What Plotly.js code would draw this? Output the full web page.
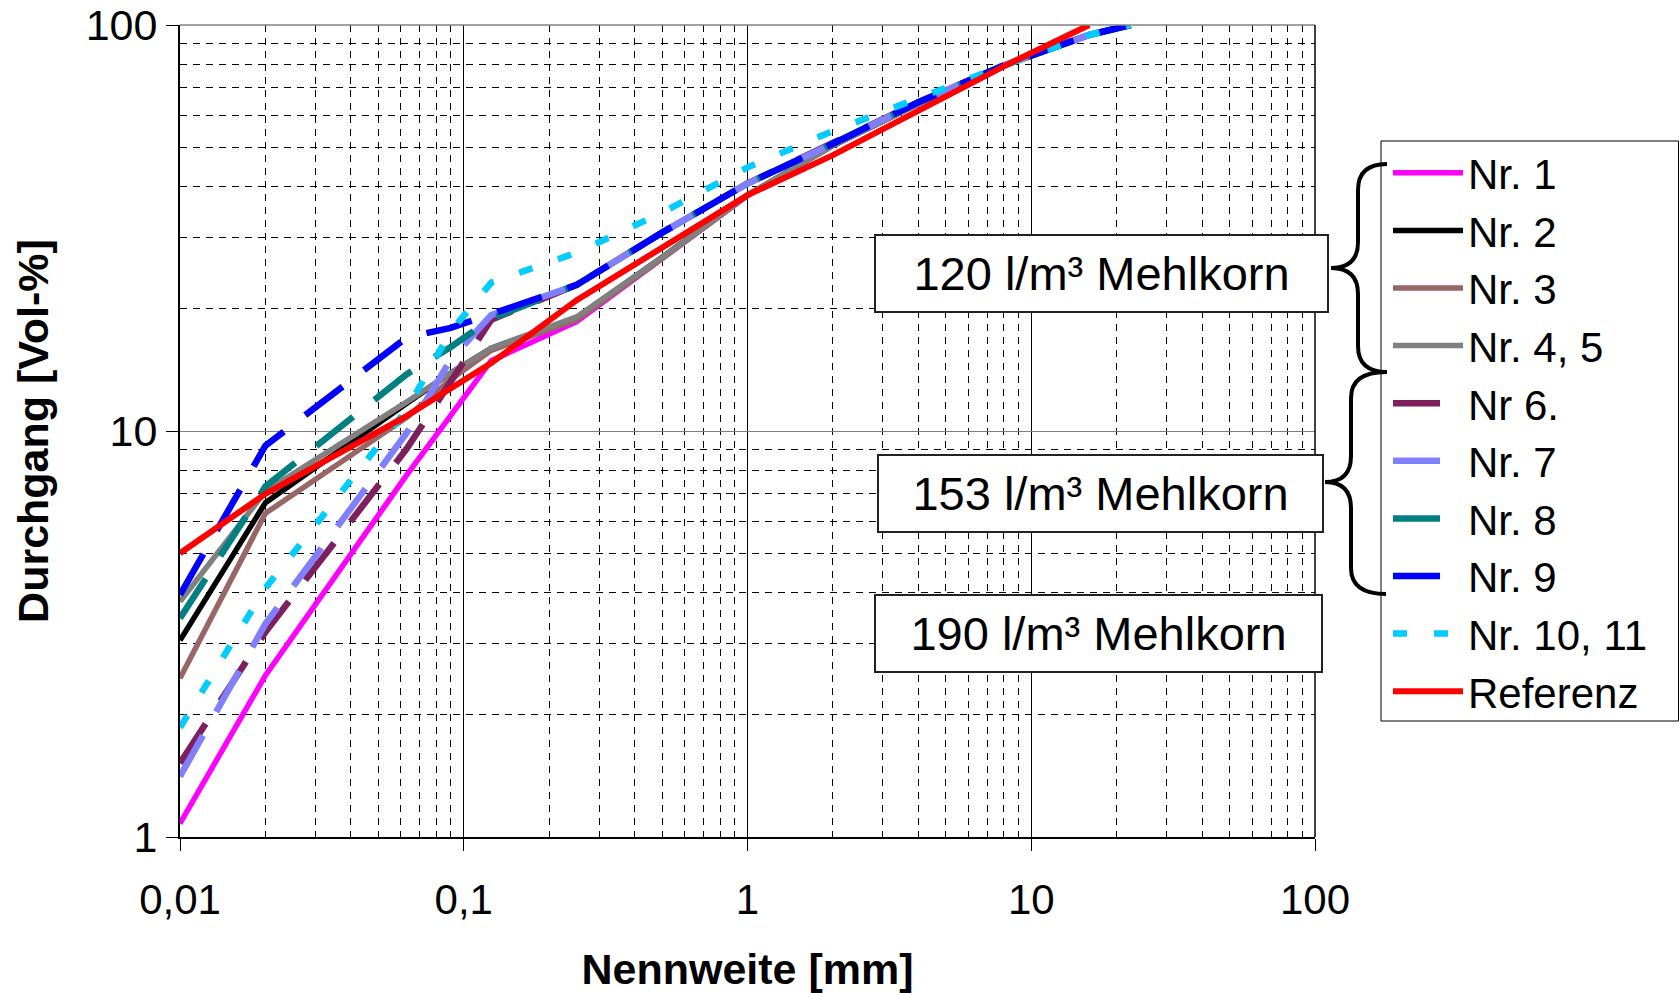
<!DOCTYPE html>
<html>
<head>
<meta charset="utf-8">
<script src="https://cdn.plot.ly/plotly-3.0.1.min.js"></script>
<style>
  html, body { margin: 0; padding: 0; background: #fff; }
  #chart { width: 1679px; height: 993px; }
</style>
</head>
<body>
<div id="chart"></div>
<script>
// Sieve / grain sizes [mm]
const sizes = [0.01, 0.02, 0.063, 0.09, 0.125, 0.25, 0.5, 1, 2, 4, 8, 16, 22.4];

// Passing [Vol-%] per mix
const nr1    = [1.08, 2.5, 7.8, 11.0, 14.9, 18.6, 26.5, 38.0, 50.5, 64.0, 79.5, 94.5, 100];
const nr2    = [3.05, 6.66, 11.7, 13.9, 16.0, 19.0, 26.8, 38.1, 50.5, 64.0, 79.5, 94.5, 100];
const nr3    = [2.46, 6.27, 10.8, 13.4, 15.8, 18.8, 26.6, 38.0, 50.5, 64.0, 79.5, 94.5, 100];
const nr45   = [3.8, 7.1, 11.8, 13.9, 16.0, 19.1, 26.8, 38.1, 50.5, 64.0, 79.5, 94.5, 100];
const nr6    = [1.52, 3.2, 9.05, 13.3, 18.8, 22.9, 30.8, 40.7, 51.0, 64.5, 79.5, 94.5, 100];
const nr7    = [1.41, 3.35, 9.9, 15.0, 19.3, 22.9, 30.8, 40.7, 51.0, 64.5, 79.5, 94.5, 100];
const nr8    = [3.46, 7.3, 13.8, 16.1, 18.9, 22.9, 30.8, 40.7, 51.0, 64.5, 79.5, 94.5, 100];
const nr9    = [3.95, 9.2, 17.0, 17.95, 19.4, 22.9, 30.8, 40.7, 51.0, 64.5, 79.5, 94.5, 100];
const nr1011 = [1.86, 4.1, 11.3, 17.6, 23.2, 27.5, 34.5, 44.6, 54.8, 66.0, 79.5, 94.5, 100];
const referenz = [5.0, 7.0, 10.9, 12.7, 14.7, 21.0, 28.2, 38.1, 47.8, 61.6, 79.1, 100, null];

const seriesNames = ['Nr. 1', 'Nr. 2', 'Nr. 3', 'Nr. 4, 5', 'Nr 6.', 'Nr. 7', 'Nr. 8', 'Nr. 9', 'Nr. 10, 11', 'Referenz'];

// Axis tick labels
const xTickVals = [0.01, 0.1, 1, 10, 100];
const xTickText = ['0,01', '0,1', '1', '10', '100'];
const yTickVals = [1, 10, 100];
const yTickText = ['1', '10', '100'];

// Group labels
const groupLabels = ['120 l/m³ Mehlkorn', '153 l/m³ Mehlkorn', '190 l/m³ Mehlkorn'];

// minor grid positions: 2..9 within each decade
function minorGrid(lo, hi) {
  const v = [];
  for (let d = lo; d < hi; d++) {
    for (let k = 2; k <= 9; k++) v.push(k * Math.pow(10, d));
  }
  return v;
}

// plot frame in pixels
const W = 1679, H = 993;
const L = 180, R = 1315, T = 25, B = 837;
const px = x => (x - L) / (R - L);
const py = y => (B - y) / (B - T);

const LONGDASH = '47px,27px';
const DOTS = '14px,27px';

function tr(name, y, color, width, dash) {
  return {
    type: 'scatter', mode: 'lines', name: name,
    x: sizes, y: y,
    line: { color: color, width: width, dash: dash || 'solid' },
    connectgaps: false, hoverinfo: 'x+y+name'
  };
}

const data = [
  tr(seriesNames[0], nr1, '#FF00FF', 5.5),
  tr(seriesNames[1], nr2, '#000000', 5.5),
  tr(seriesNames[2], nr3, '#996666', 5.5),
  tr(seriesNames[3], nr45, '#808080', 5.5),
  tr(seriesNames[4], nr6, '#7E1F5E', 6.5, LONGDASH),
  tr(seriesNames[5], nr7, '#8080FF', 6.5, LONGDASH),
  tr(seriesNames[6], nr8, '#008080', 6.5, LONGDASH),
  tr(seriesNames[7], nr9, '#0000FF', 6.5, LONGDASH),
  tr(seriesNames[8], nr1011, '#00CCFF', 6.5, DOTS),
  tr(seriesNames[9], referenz, '#FF0000', 6)
];

// curly brace as a paper-space path
function brace(xEnd, yTop, yBot, xBar, xTip, yTip, r) {
  const p = (x, y) => px(x).toFixed(5) + ',' + py(y).toFixed(5);
  return 'M' + p(xEnd, yTop) +
    ' Q' + p(xBar, yTop) + ' ' + p(xBar, yTop + r) +
    ' L' + p(xBar, yTip - r) +
    ' Q' + p(xBar, yTip) + ' ' + p(xTip, yTip) +
    ' Q' + p(xBar, yTip) + ' ' + p(xBar, yTip + r) +
    ' L' + p(xBar, yBot - r) +
    ' Q' + p(xBar, yBot) + ' ' + p(xEnd, yBot);
}

function labelBox(text, cx, cy, w, h) {
  return {
    xref: 'paper', yref: 'paper', x: px(cx), y: py(cy),
    xanchor: 'center', yanchor: 'middle',
    text: text, showarrow: false,
    font: { size: 47, color: '#000' },
    bgcolor: '#FFFFFF', bordercolor: '#222', borderwidth: 2, borderpad: 0,
    width: w, height: h, align: 'center', valign: 'middle'
  };
}

const gridDash = '7px,6px';

const layout = {
  width: W, height: H,
  margin: { l: L, r: W - R, t: T, b: H - B, autoexpand: false },
  paper_bgcolor: '#fff', plot_bgcolor: '#fff',
  font: { family: 'Liberation Sans, Arial, sans-serif', color: '#000', size: 41 },
  showlegend: true,
  xaxis: {
    type: 'log', range: [-2, 2], autorange: false,
    tickmode: 'array', tickvals: xTickVals, ticktext: xTickText,
    ticks: 'outside', ticklen: 12, tickwidth: 1, tickcolor: '#000',
    tickfont: { size: 42 }, ticklabelstandoff: 13,
    showline: true, linecolor: '#000', linewidth: 2,
    showgrid: true, gridcolor: '#000', gridwidth: 1,
    minor: { tickmode: 'array', tickvals: minorGrid(-2, 2), showgrid: true,
             gridcolor: '#000', gridwidth: 1, griddash: gridDash, ticks: '' },
    zeroline: false, automargin: false,
    title: { text: 'Nennweite [mm]', font: { size: 43, weight: 'bold' }, standoff: 32 }
  },
  yaxis: {
    type: 'log', range: [0, 2], autorange: false,
    tickmode: 'array', tickvals: yTickVals, ticktext: yTickText,
    ticks: 'outside', ticklen: 12, tickwidth: 1, tickcolor: '#000',
    tickfont: { size: 43 },
    showline: true, linecolor: '#000', linewidth: 2,
    showgrid: true, gridcolor: '#808080', gridwidth: 1,
    minor: { tickmode: 'array', tickvals: minorGrid(0, 2), showgrid: true,
             gridcolor: '#000', gridwidth: 1, griddash: gridDash, ticks: '' },
    zeroline: false, automargin: false,
    title: { text: 'Durchgang [Vol-%]', font: { size: 43, weight: 'bold' }, standoff: 24 }
  },
  legend: {
    xref: 'paper', yref: 'paper',
    x: px(1382), y: py(139), xanchor: 'left', yanchor: 'top',
    font: { size: 42, color: '#000' },
    bgcolor: 'rgba(0,0,0,0)', borderwidth: 0,
    itemwidth: 70, tracegroupgap: 0, indentation: 6,
    traceorder: 'normal'
  },
  annotations: [
    labelBox(groupLabels[0], 1101.5, 273.5, 451, 75),
    labelBox(groupLabels[1], 1100.3, 493.3, 443, 75),
    labelBox(groupLabels[2], 1098.3, 633.5, 445, 75)
  ],
  shapes: [
    // frame top and right edge
    { type: 'line', xref: 'paper', yref: 'paper', x0: 0, x1: 1, y0: 1, y1: 1,
      line: { color: '#808080', width: 1.5 } },
    { type: 'line', xref: 'paper', yref: 'paper', x0: 1, x1: 1, y0: 0, y1: 1,
      line: { color: '#000', width: 1.5 } },
    // legend frame
    { type: 'rect', xref: 'paper', yref: 'paper', layer: 'above',
      x0: px(1381), x1: px(1678.5), y0: py(721), y1: py(141),
      fillcolor: '#fff', line: { color: '#000', width: 1 } },
    // braces grouping legend entries
    { type: 'path', xref: 'paper', yref: 'paper', layer: 'above',
      path: brace(1387, 164, 372, 1358, 1331, 268, 26),
      line: { color: '#000', width: 4 } },
    { type: 'path', xref: 'paper', yref: 'paper', layer: 'above',
      path: brace(1386, 372, 594, 1351, 1325, 482, 26),
      line: { color: '#000', width: 4 } }
  ]
};

Plotly.newPlot('chart', data, layout, { displayModeBar: false, staticPlot: true });
</script>
</body>
</html>
